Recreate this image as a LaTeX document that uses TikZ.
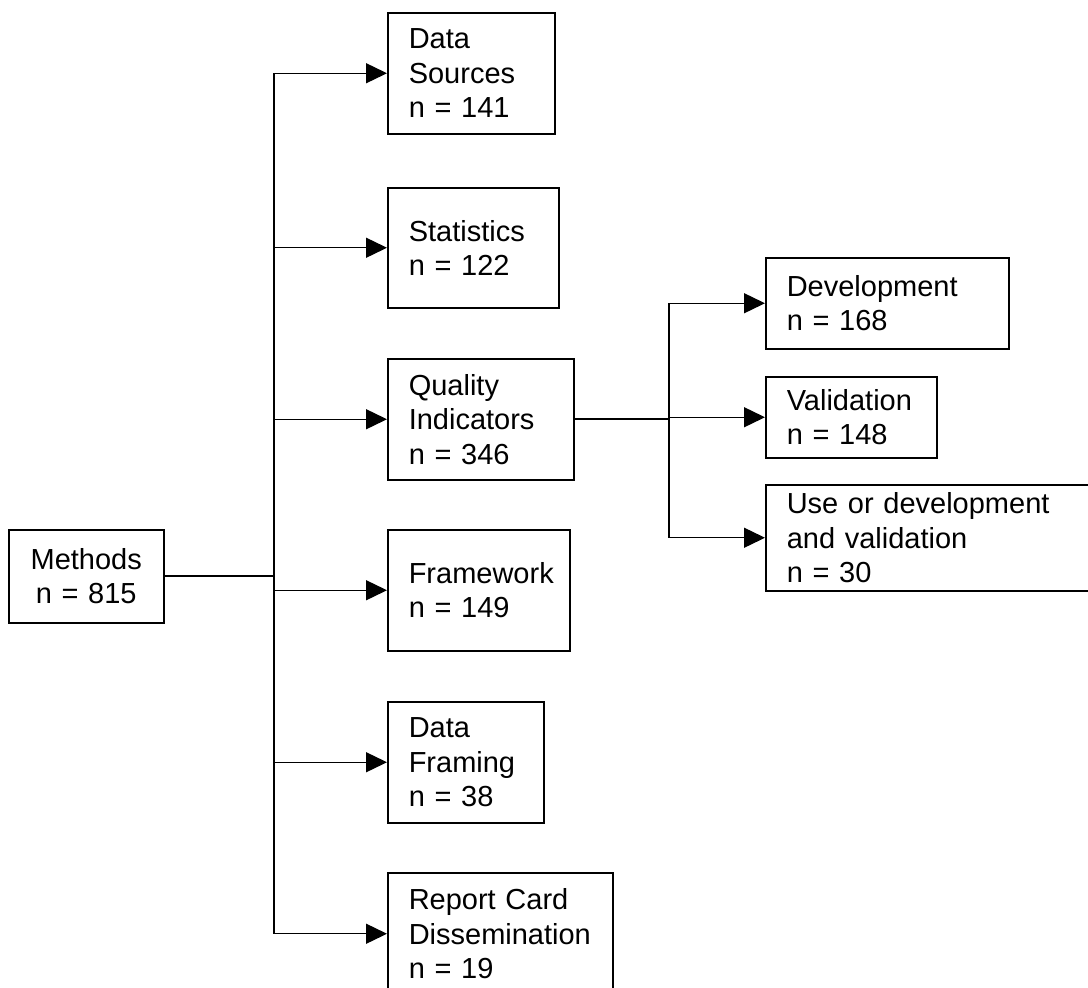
\documentclass[tikz,border=0pt]{standalone}
\usepackage{fontspec}
\setmainfont{Liberation Sans}
\usetikzlibrary{arrows.meta}
\begin{document}
\begin{tikzpicture}[x=1pt,y=-1pt,
  box/.style={draw, line width=1.5pt, anchor=north west, inner xsep=21pt, inner ysep=0pt,
    align=left, font={\fontsize{29}{34.5}\selectfont\hyphenpenalty=10000 }},
  cbox/.style={box, inner xsep=10pt, align=center},
  thinline/.style={line width=1.4pt},
  thickline/.style={line width=2.3pt},
  arr/.style={line width=1.4pt, -{Triangle[length=21pt,width=20pt]}}]
\clip (0,0) rectangle (1088,988);
\fill[white] (0,0) rectangle (1088,988);
% boxes
\node[cbox, text width=135pt, minimum height=93pt] (methods) at (8,529) {Methods\\n = 815};
\node[box, text width=125pt, minimum height=121pt] (ds) at (387,12) {Data\\Sources\\n = 141};
\node[box, text width=129pt, minimum height=120pt] (stat) at (387,187) {Statistics\\n = 122};
\node[box, text width=144pt, minimum height=121pt] (qi) at (387,358) {Quality\\Indicators\\n = 346};
\node[box, text width=140pt, minimum height=121pt] (fw) at (387,529) {Framework\\n = 149};
\node[box, text width=114pt, minimum height=121pt] (df) at (387,701) {Data\\Framing\\n = 38};
\node[box, text width=183pt, minimum height=122pt] (rc) at (387,872) {Report Card\\Dissemination\\n = 19};
\node[box, text width=201pt, minimum height=91pt] (dev) at (765,257) {Development\\n = 168};
\node[box, text width=129pt, minimum height=81pt] (val) at (765,376) {Validation\\n = 148};
\node[box, text width=288pt, minimum height=106pt] (use) at (765,484) {Use or development\\and validation\\n = 30};
% trunk coordinates
\coordinate (tk) at (274,0);
\coordinate (sk) at (669,0);
% main trunk
\draw[thickline] (methods.east) -- (methods.east -| tk);
\draw[thinline] (tk |- ds.west) -- (tk |- rc.west);
\foreach \n in {ds,stat,qi,fw,df,rc} \draw[arr] (tk |- \n.west) -- (\n.west);
% sub trunk
\draw[thickline] (qi.east) -- (qi.east -| sk);
\draw[thinline] (sk |- dev.west) -- (sk |- use.west);
\foreach \n in {dev,val,use} \draw[arr] (sk |- \n.west) -- (\n.west);
\end{tikzpicture}
\end{document}
